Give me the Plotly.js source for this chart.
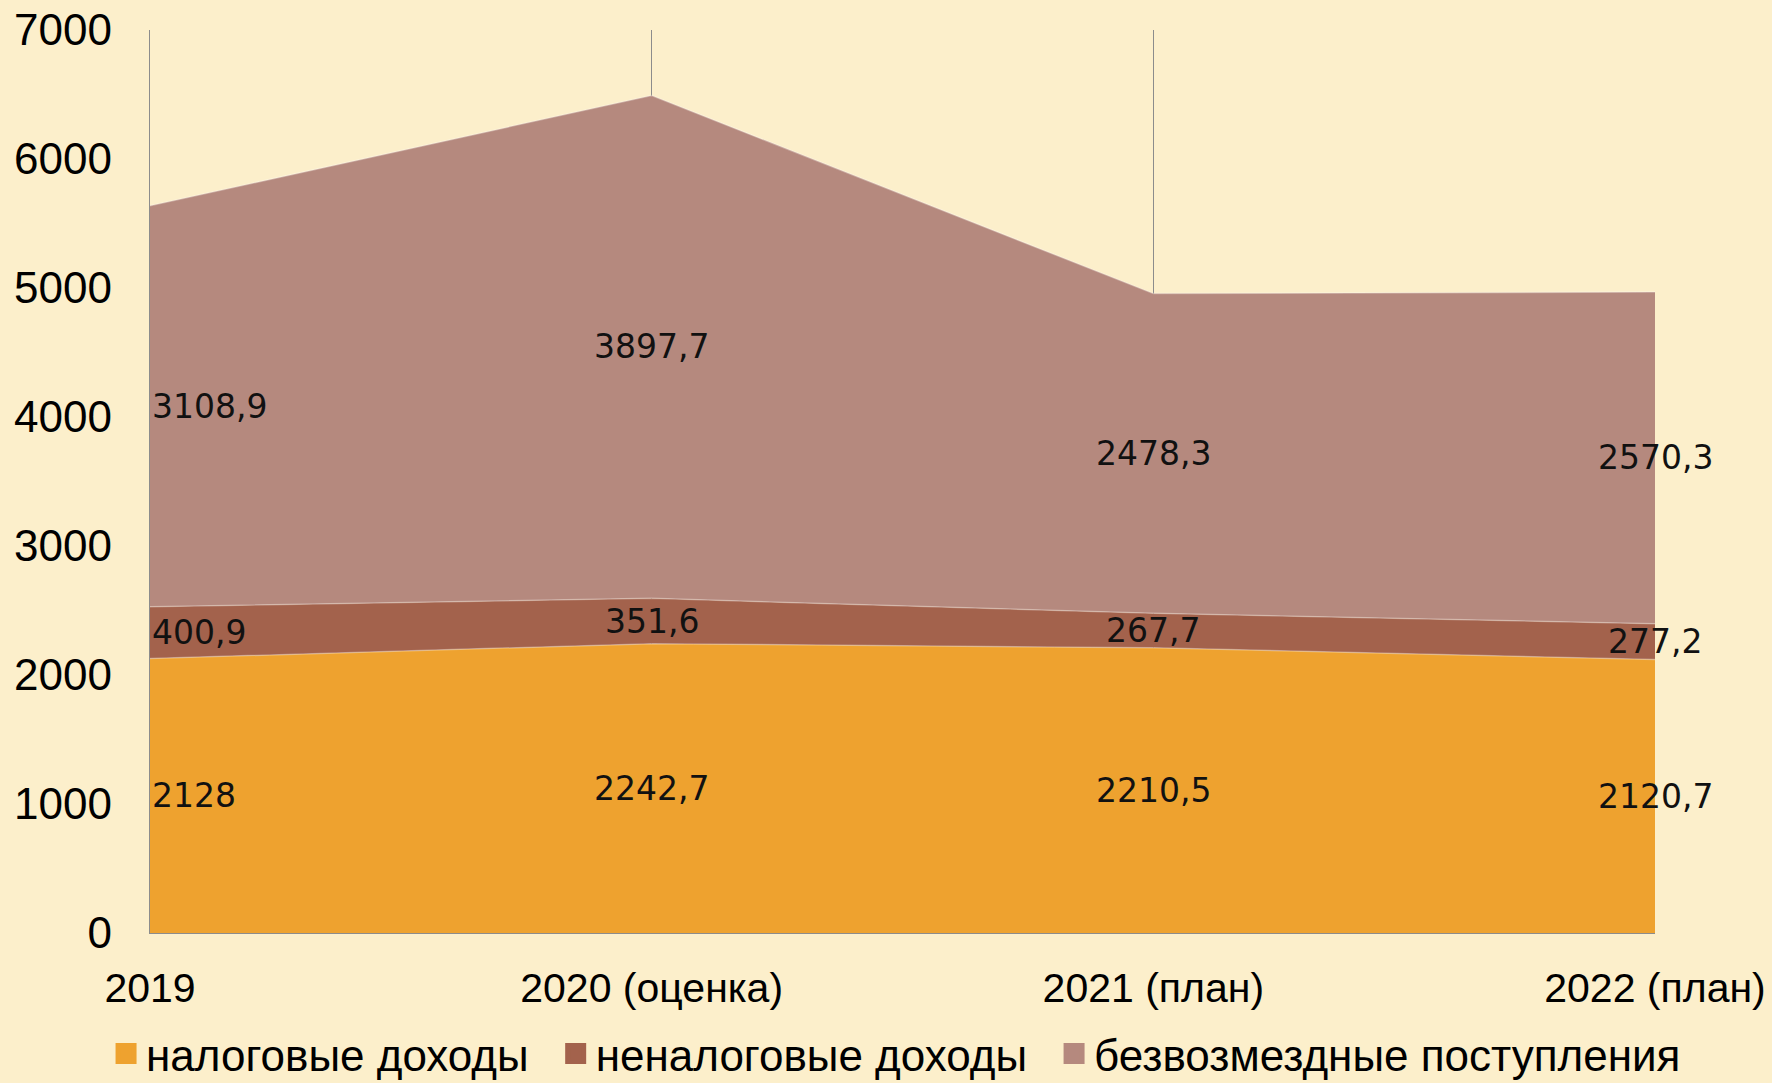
<!DOCTYPE html>
<html>
<head>
<meta charset="utf-8">
<script src="https://cdn.plot.ly/plotly-3.0.1.min.js"></script>
<style>
  html, body { margin: 0; padding: 0; background: #fcefcb; }
  #chart { width: 1772px; height: 1083px; }
</style>
</head>
<body>
<div id="chart"></div>
<script>
// categories and series (млн руб.)
const years = ['2019', '2020 (оценка)', '2021 (план)', '2022 (план)'];
const taxIncome = [2128, 2242.7, 2210.5, 2120.7];
const nonTaxIncome = [400.9, 351.6, 267.7, 277.2];
const grants = [3108.9, 3897.7, 2478.3, 2570.3];

const seriesNames = ['налоговые доходы', 'неналоговые доходы', 'безвозмездные поступления'];
const seriesColors = ['#eea22f', '#a3624c', '#b5897e'];
const seriesValues = [taxIncome, nonTaxIncome, grants];

const fmt = v => String(v).replace('.', ',');

const traces = [];
seriesValues.forEach((vals, i) => {
  traces.push({
    x: years,
    y: vals,
    type: 'scatter',
    mode: 'lines',
    stackgroup: 'one',
    fillcolor: seriesColors[i],
    line: { color: 'rgba(255,255,255,0.3)', width: 1.5 },
    showlegend: false,
    hoverinfo: 'skip'
  });
});

// legend entries with square swatches (en space keeps the gap between items)
seriesNames.forEach((name, i) => {
  traces.push({
    x: [null],
    y: [null],
    type: 'scatter',
    mode: 'markers',
    name: i < seriesNames.length - 1 ? name + '\u2002' : name,
    marker: { symbol: 'square', size: 16, color: seriesColors[i], line: { color: seriesColors[i], width: 5 } },
    showlegend: true
  });
});

// data labels in the middle of each band
const annotations = [];
const base = years.map(() => 0);
seriesValues.forEach(vals => {
  vals.forEach((v, j) => {
    annotations.push({
      x: j,
      y: base[j] + v / 2,
      xref: 'x',
      yref: 'y',
      text: fmt(v),
      showarrow: false,
      xanchor: j === 0 ? 'left' : 'center',
      yanchor: 'middle',
      font: { family: 'DejaVu Sans, sans-serif', size: 33, color: '#111' }
    });
    base[j] += v;
  });
});

const layout = {
  width: 1772,
  height: 1083,
  paper_bgcolor: '#fcefcb',
  plot_bgcolor: '#fcefcb',
  margin: { l: 150, r: 117, t: 30, b: 150, autoexpand: false },
  font: { family: 'Liberation Sans, Arial, sans-serif', color: '#000' },
  xaxis: {
    type: 'category',
    range: [0, 3],
    showgrid: true,
    gridcolor: '#8c8c8c',
    gridwidth: 1.3,
    showline: true,
    linecolor: '#8c8c8c',
    linewidth: 1.3,
    ticks: '',
    ticklabelstandoff: 18,
    tickfont: { size: 41, family: 'Liberation Sans, Arial, sans-serif' },
    zeroline: false,
    fixedrange: true
  },
  yaxis: {
    range: [0, 7000],
    dtick: 1000,
    showgrid: false,
    showline: true,
    linecolor: '#8c8c8c',
    linewidth: 1.3,
    ticks: '',
    ticklabelstandoff: 28,
    tickfont: { size: 44, family: 'Liberation Sans, Arial, sans-serif' },
    zeroline: false,
    fixedrange: true
  },
  legend: {
    orientation: 'h',
    traceorder: 'normal',
    x: -0.0292,
    xanchor: 'left',
    y: -0.134,
    yanchor: 'middle',
    font: { size: 44, family: 'Liberation Sans, Arial, sans-serif' },
    bgcolor: 'rgba(0,0,0,0)',
    borderwidth: 0,
    itemwidth: 30
  },
  annotations: annotations
};

Plotly.newPlot('chart', traces, layout, { displayModeBar: false, staticPlot: true });
</script>
</body>
</html>
